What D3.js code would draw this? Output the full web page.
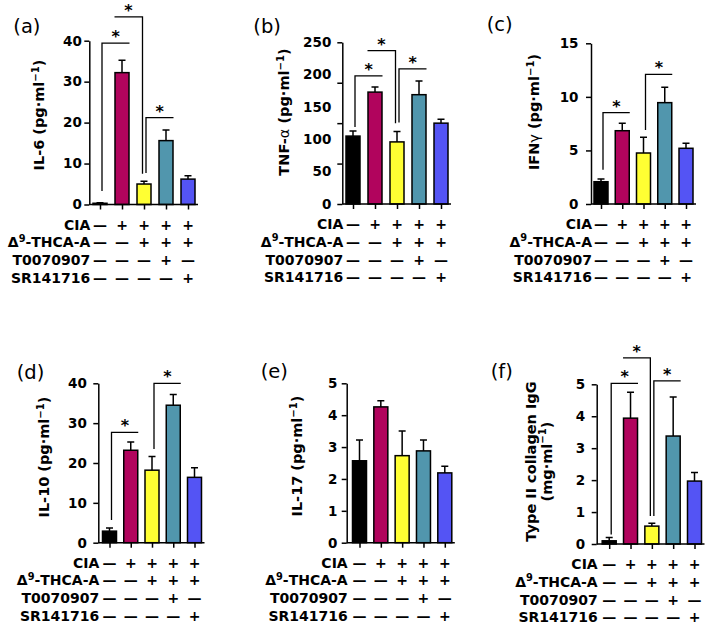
<!DOCTYPE html>
<html><head><meta charset="utf-8">
<script src="https://cdn.jsdelivr.net/npm/d3@7"></script>
<style>body{margin:0;background:#fff}svg{display:block}</style>
</head><body>
<svg id="chart" width="709" height="625"></svg>
<script>
// ---------------- data ----------------
const groups = ["Control", "CIA", "CIA+THCA-A", "CIA+THCA-A+T0070907", "CIA+THCA-A+SR141716"];
const treatmentRows = ["CIA", "Δ9-THCA-A", "T0070907", "SR141716"];
const treatCIA  = [0, 1, 1, 1, 1];
const treatTHCA = [0, 0, 1, 1, 1];
const treatT007 = [0, 0, 0, 1, 0];
const treatSR   = [0, 0, 0, 0, 1];

const il6Mean = [0.3, 32.2, 5.0, 15.6, 6.2];
const il6Sem  = [0.1, 3.0, 0.7, 2.6, 0.8];
const il6Ticks = [0, 10, 20, 30, 40];
const il6Sig = [[0, 1, 39.4, 3.3], [2, 1, 45.8, 7.5], [2, 3, 21.2, 7.7]];

const tnfMean = [105, 173, 96, 169, 125];
const tnfSem  = [8, 8, 16, 21, 6];
const tnfTicks = [0, 50, 100, 150, 200, 250];
const tnfTickMarks = [0, 62.5, 125, 187.5, 250];
const tnfSig = [[0, 1, 198, 119], [2, 1, 237, 125], [2, 3, 209, 126]];

const ifnMean = [2.08, 6.84, 4.76, 9.46, 5.2];
const ifnSem  = [0.25, 0.69, 1.47, 1.44, 0.47];
const ifnTicks = [0, 5, 10, 15];
const ifnSig = [[0, 1, 8.52, 3.2], [2, 3, 12.1, 6.9]];

const il10Mean = [2.9, 23.2, 18.2, 34.5, 16.4];
const il10Sem  = [0.8, 2.1, 3.4, 2.7, 2.4];
const il10Ticks = [0, 10, 20, 30, 40];
const il10Sig = [[0, 1, 27.7, 5.7], [2, 3, 40.0, 23.5]];

const il17Mean = [2.57, 4.26, 2.73, 2.88, 2.19];
const il17Sem  = [0.65, 0.19, 0.77, 0.34, 0.21];
const il17Ticks = [0, 1, 2, 3, 4, 5];
const il17Sig = [];

const iggMean = [0.1, 3.94, 0.56, 3.38, 1.97];
const iggSem  = [0.1, 0.81, 0.09, 1.22, 0.27];
const iggTicks = [0, 1, 2, 3, 4, 5];
const iggSig = [[0, 1, 5.03, 0.3], [2, 1, 5.83, 0.88], [2, 3, 5.11, 0.88]];

// ---------------- styles / layout ----------------
const barColors = ["#000000", "#B1045D", "#FFFF33", "#5196AD", "#5454F4"];
const FONT = "'DejaVu Sans', sans-serif";
const TICK_FS = 13.5, TABLE_FS = 14, TITLE_FS = 14.5;
const treat = [treatCIA, treatTHCA, treatT007, treatSR];

const panels = [
  {tag: "(a)", mean: il6Mean, sem: il6Sem, ticks: il6Ticks, sig: il6Sig, max: 40,
   title: [[["IL-6 (pg·ml"], ["−1", "sup"], [")"]]],
   L: {axisX: 89.3, y0: 204.5, yTop: 40.7, first: 100, last: 188, gap: 7.5, tagX: 13.3, tagY: 32.5, tX: [44], tY: 115}},
  {tag: "(b)", mean: tnfMean, sem: tnfSem, ticks: tnfTicks, tickMarks: tnfTickMarks, sig: tnfSig, max: 250,
   title: [[["TNF-"], ["α", "greek"], [" (pg·ml"], ["−1", "sup"], [")"]]],
   L: {axisX: 342.3, y0: 204, yTop: 42.3, first: 353, last: 441, gap: 11, tagX: 253.3, tagY: 32.5, tX: [289], tY: 112}},
  {tag: "(c)", mean: ifnMean, sem: ifnSem, ticks: ifnTicks, sig: ifnSig, max: 15,
   title: [[["IFN"], ["γ", "greek"], [" (pg·ml"], ["−1", "sup"], [")"]]],
   L: {axisX: 591, y0: 204, yTop: 43.3, first: 601, last: 686, gap: 12.5, tagX: 486.7, tagY: 31, tX: [539], tY: 112}},
  {tag: "(d)", mean: il10Mean, sem: il10Sem, ticks: il10Ticks, sig: il10Sig, max: 40,
   title: [[["IL-10 (pg·ml"], ["−1", "sup"], [")"]]],
   L: {axisX: 98.3, y0: 542.7, yTop: 383.3, first: 109.5, last: 194.5, gap: 11.5, tagX: 16.7, tagY: 378.5, tX: [49], tY: 457}},
  {tag: "(e)", mean: il17Mean, sem: il17Sem, ticks: il17Ticks, sig: il17Sig, max: 5,
   title: [[["IL-17 (pg·ml"], ["−1", "sup"], [")"]]],
   L: {axisX: 346.7, y0: 542.7, yTop: 383.3, first: 359.5, last: 444.8, gap: 9.4, tagX: 260.7, tagY: 377.5, tX: [302.3], tY: 456}},
  {tag: "(f)", mean: iggMean, sem: iggSem, ticks: iggTicks, sig: iggSig, max: 5,
   title: [[["Type II collagen IgG"]], [["(mg·ml"], ["−1", "sup"], [")"]]],
   L: {axisX: 596.7, y0: 544, yTop: 384.3, first: 609.2, last: 694.5, gap: 11.5, tagX: 490.7, tagY: 377.5, tX: [535.5, 551.5], tY: 461.5}}
];

const svg = d3.select("#chart");
svg.append("rect").attr("width", 709).attr("height", 625).attr("fill", "#fff");

function addRich(textSel, segs) {
  const nodes = [];
  segs.forEach(([t, kind]) => {
    const ts = textSel.append("tspan").text(t);
    if (kind === "sup") ts.attr("font-size", "70%").attr("dy", -5.5);
    else if (kind === "greek") ts.attr("font-weight", "normal");
    nodes.push(ts);
  });
  segs.forEach(([t, kind], i) => {
    if (kind === "sup" && nodes[i + 1]) nodes[i + 1].attr("dy", 5.5);
  });
}

panels.forEach(p => {
  const L = p.L;
  const g = svg.append("g");
  const x = d3.scalePoint().domain(d3.range(groups.length)).range([L.first, L.last]);
  const y = d3.scaleLinear().domain([0, p.max]).range([L.y0, L.yTop]);
  const bw = 14;

  // bars
  g.selectAll("rect.bar").data(p.mean).join("rect")
    .attr("class", "bar")
    .attr("x", (d, i) => x(i) - bw / 2)
    .attr("y", d => y(d))
    .attr("width", bw)
    .attr("height", d => y(0) - y(d))
    .attr("fill", (d, i) => barColors[i])
    .attr("stroke", "#000").attr("stroke-width", 1.5);

  // error bars (upper only)
  p.mean.forEach((m, i) => {
    const top = y(m + p.sem[i]);
    g.append("path")
      .attr("d", `M${x(i)},${y(m)}V${top}M${x(i) - 3.5},${top}H${x(i) + 3.5}`)
      .attr("stroke", "#000").attr("stroke-width", 1.5).attr("fill", "none");
  });

  // y axis
  const yAxisG = g.append("g").attr("transform", `translate(${L.axisX},0)`);
  if (p.tickMarks) {
    yAxisG.call(d3.axisLeft(y).tickValues(p.tickMarks).tickSize(5).tickSizeOuter(0).tickFormat(""));
    const lab = g.append("g").attr("transform", `translate(${L.axisX},0)`)
      .call(d3.axisLeft(y).tickValues(p.ticks).tickSize(0).tickPadding(L.gap).tickFormat(d3.format("d")));
    lab.select(".domain").remove();
    lab.selectAll("text").attr("font-family", FONT).attr("font-size", TICK_FS).attr("font-weight", "bold").attr("fill", "#000");
  } else {
    yAxisG.call(d3.axisLeft(y).tickValues(p.ticks).tickSize(5).tickSizeOuter(0).tickPadding(L.gap - 5).tickFormat(d3.format("d")));
  }
  yAxisG.selectAll("text").attr("font-family", FONT).attr("font-size", TICK_FS).attr("font-weight", "bold").attr("fill", "#000");
  yAxisG.selectAll("path,line").attr("stroke", "#000").attr("stroke-width", 1.5);

  // x axis
  const xAxisG = g.append("g").attr("transform", `translate(0,${L.y0})`)
    .call(d3.axisBottom(x).tickSize(5).tickSizeOuter(0).tickFormat(""));
  xAxisG.select(".domain").remove();
  xAxisG.selectAll("line").attr("stroke", "#000").attr("stroke-width", 1.5);
  g.append("line").attr("x1", L.axisX).attr("x2", L.last + 10).attr("y1", L.y0).attr("y2", L.y0)
    .attr("stroke", "#000").attr("stroke-width", 1.5);

  // significance brackets
  p.sig.forEach(([from, to, yv, base]) => {
    const cf = x(from) + (to > from ? 2 : -1.5);
    const far = to > from ? x(to) + 7.5 : x(to) - 7.5;
    const yl = y(yv), yb = y(base);
    g.append("path").attr("d", `M${cf},${yb}V${yl}H${far}`)
      .attr("stroke", "#000").attr("stroke-width", 1.3).attr("fill", "none");
    g.append("text").attr("x", (cf + far) / 2).attr("y", yl - 1)
      .attr("text-anchor", "middle").attr("font-family", FONT).attr("font-weight", "bold")
      .attr("font-size", 16).text("*");
  });

  // panel tag
  g.append("text").attr("x", L.tagX).attr("y", L.tagY)
    .attr("font-family", FONT).attr("font-size", 19.5).text(p.tag);

  // y title
  p.title.forEach((line, li) => {
    const t = g.append("text")
      .attr("transform", `translate(${L.tX[li]},${L.tY}) rotate(-90)`)
      .attr("text-anchor", "middle").attr("font-family", FONT).attr("font-weight", "bold")
      .attr("font-size", TITLE_FS);
    addRich(t, line);
  });

  // treatment table
  treatmentRows.forEach((r, ri) => {
    const cy = L.y0 + 20 + ri * 17.75 + 5;
    const lt = g.append("text").attr("x", L.axisX + 1).attr("y", cy)
      .attr("text-anchor", "end").attr("font-family", FONT).attr("font-weight", "bold").attr("font-size", TABLE_FS);
    if (r.startsWith("Δ9")) {
      addRich(lt, [["Δ"], ["9", "sup"], ["-THCA-A"]]);
    } else {
      lt.text(r);
    }
    g.selectAll(null).data(treat[ri]).join("text")
      .attr("x", (d, i) => x(i)).attr("y", cy)
      .attr("text-anchor", "middle").attr("font-family", FONT).attr("font-weight", "bold").attr("font-size", TABLE_FS)
      .text(d => d ? "+" : "—");
  });
});
</script>
</body></html>
